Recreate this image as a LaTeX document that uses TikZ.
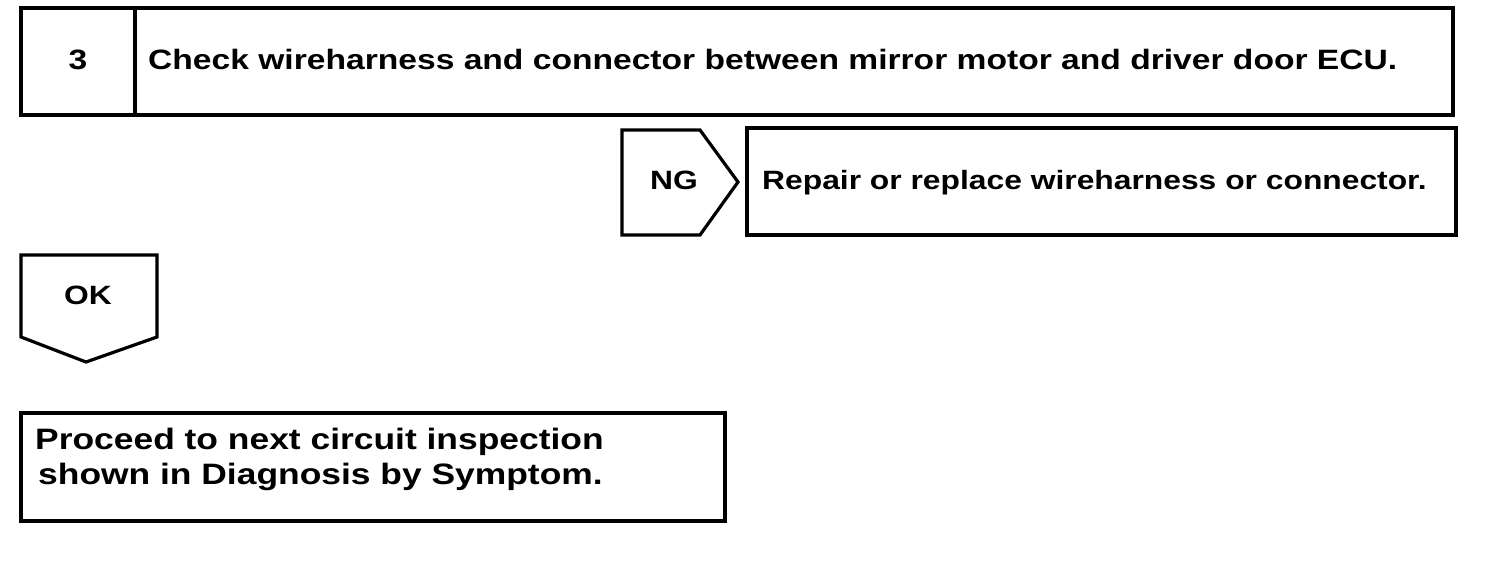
\documentclass[tikz,border=0pt]{standalone}
\usepackage{fontspec}
\setmainfont{Liberation Sans}
\newfontfamily\widefont[FakeStretch=1.2]{Liberation Sans}
\usetikzlibrary{positioning}

\begin{document}
\begin{tikzpicture}[x=1pt,y=-1pt,
                  box/.style={rectangle,draw=black,line width=3.2pt,inner sep=0pt,outer sep=0pt,anchor=north west},
                  tab/.style={draw=black,line width=3.2pt,line join=miter},
                  big/.style={font=\widefont\bfseries\fontsize{28}{33}\selectfont,inner sep=0pt},
                  mid/.style={font=\widefont\bfseries\fontsize{26.5}{30}\selectfont,inner sep=0pt},
                  tall/.style={font=\widefont\bfseries\fontsize{29.5}{35}\selectfont,inner sep=0pt,align=left}
                  ]
                  \useasboundingbox (0,0) rectangle (1504,582);
                  % inspection step
                  \node[box,minimum width=114pt,minimum height=107pt] (num) at (21,8) {};
                  \node[box,minimum width=1318pt,minimum height=107pt] (check) at (num.north east) {};
                  \node[big,anchor=base] (numtxt) at (num.center |- 0,69) {3};
                  \node[big,anchor=base west] (checktxt) at (148,69)
                    {Check wireharness and connector between mirror motor and driver door ECU.};
                  % NG branch
                  \coordinate (ngtip) at (738,182);
                  \draw[tab] (622,130) -- (700,130) -- (ngtip) -- (700,235) -- (622,235) -- cycle;
                  \node[mid,anchor=base] (ng) at (674,189) {NG};
                  \node[box,minimum width=709pt,minimum height=107pt] (repair) at (747,128) {};
                  \node[mid,anchor=base west] (repairtxt) at (762,189)
                    {Repair or replace wireharness or connector.};
                  % OK branch
                  \coordinate (oktip) at (86,362);
                  \draw[tab] (21,255) -- (157,255) -- (157,337) -- (oktip) -- (21,337) -- cycle;
                  \node[mid,anchor=base] (ok) at (88,304) {OK};
                  \node[box,minimum width=704pt,minimum height=108pt] (next) at (21,413) {};
                  \node[tall,anchor=north west] (nexttxt) at (35,428)
                    {Proceed to next circuit inspection\\\hspace{3pt}shown in Diagnosis by Symptom.};
\end{tikzpicture}
\end{document}
